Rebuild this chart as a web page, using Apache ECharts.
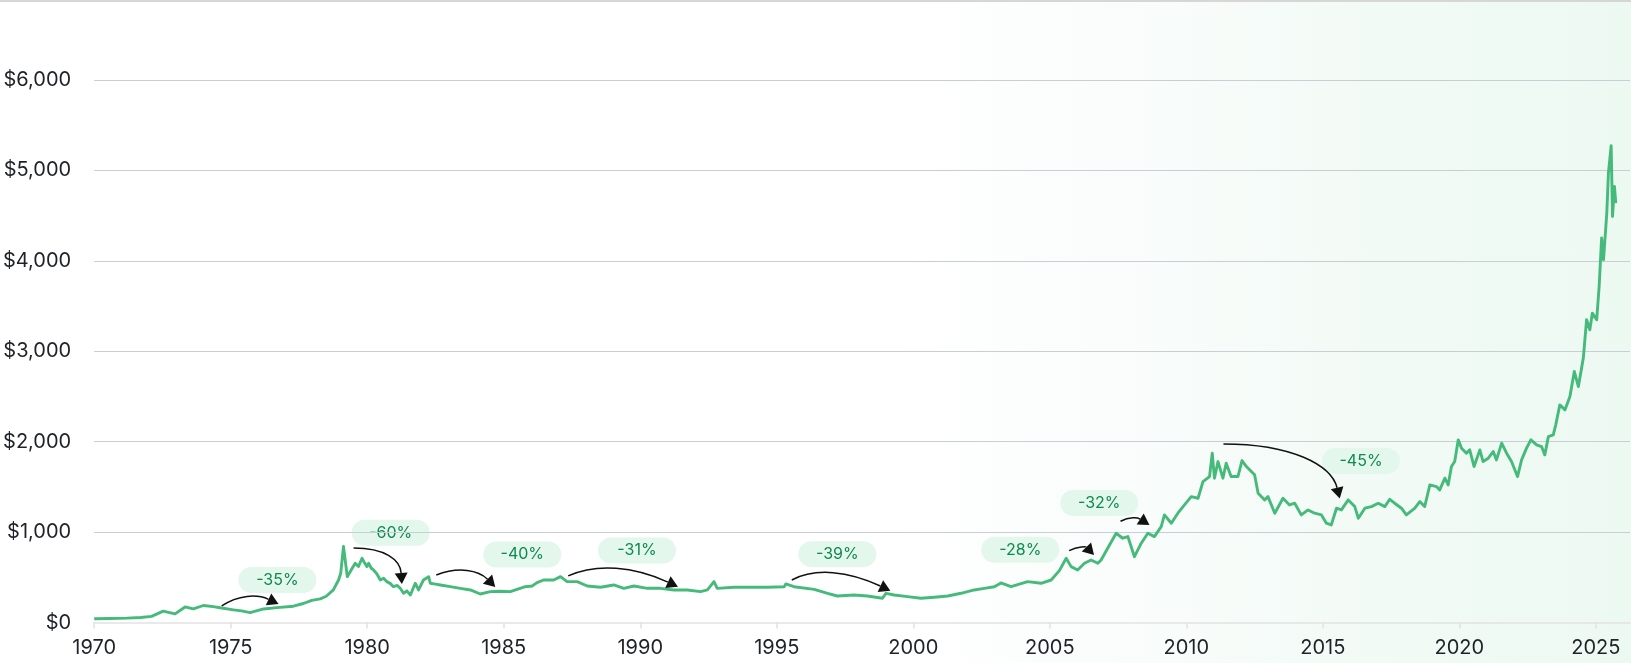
<!DOCTYPE html>
<html>
<head>
<meta charset="utf-8">
<script src="https://cdn.jsdelivr.net/npm/echarts@6/dist/echarts.min.js"></script>
<style>
  html, body { margin: 0; padding: 0; background: #ffffff; }
  #wrap { position: relative; width: 1631px; height: 663px; overflow: hidden;
    background: linear-gradient(90deg, #ffffff 0%, #ffffff 55%, #f8fcfa 72%, #f1faf5 88%, #ecf9f1 100%); }
  #topbar { position: absolute; left: 0; top: 0; width: 100%; height: 2px; background: #d6d6d6; z-index: 5; }
  #chart { position: absolute; left: 0; top: 0; width: 1631px; height: 663px; }
</style>
</head>
<body>
<div id="wrap"><div id="chart"></div><div id="topbar"></div></div>
<script>
// ---- Data (year, USD per ounce) ----
const gold1970s = [
  [1970.00,42],[1970.60,44],[1971.20,48],[1971.70,55],[1972.10,68],[1972.53,125],[1972.96,95],
  [1973.33,172],[1973.63,150],[1974.00,188],[1974.36,175],[1974.67,160],[1975.10,140],[1975.40,128],
  [1975.71,110],[1976.20,150],[1976.69,165],[1977.30,180],[1977.66,210],[1977.97,245],[1978.28,262],
  [1978.50,290],[1978.76,360],[1978.95,470],[1979.03,545],[1979.13,840],[1979.27,507],[1979.31,489],
  [1979.45,600],[1979.56,655],[1979.68,620],[1979.81,711],[1979.90,660],[1979.99,618]
];
const gold1980s = [
  [1980.05,655],[1980.15,600],[1980.23,581],[1980.35,540],[1980.48,470],[1980.60,490],[1980.72,452],
  [1980.85,430],[1980.96,396],[1981.10,410],[1981.21,378],[1981.33,323],[1981.45,350],[1981.58,304],
  [1981.76,434],[1981.88,360],[1982.06,470],[1982.25,507],[1982.31,434],[1982.50,425],[1982.68,415],
  [1983.04,396],[1983.41,378],[1983.78,360],[1984.14,315],[1984.51,341],[1984.88,345],[1985.24,341],
  [1985.79,396],[1986.04,404],[1986.22,441],[1986.46,470],[1986.83,470],[1987.08,507],[1987.32,452],
  [1987.69,452],[1988.06,404],[1988.54,390],[1989.03,415],[1989.40,378],[1989.77,404]
];
const gold1990s = [
  [1990.26,378],[1990.74,378],[1991.23,360],[1991.72,360],[1992.21,341],[1992.46,360],[1992.70,452],
  [1992.82,378],[1993.43,390],[1994.17,390],[1994.66,390],[1995.27,396],[1995.33,426],[1995.63,396],
  [1996.37,367],[1996.86,323],[1997.22,293],[1997.83,304],[1998.32,293],[1998.87,268],[1999.00,323],
  [1999.30,304],[1999.79,286]
];
const gold2000s = [
  [2000.28,268],[2000.77,279],[2001.26,293],[2001.75,323],[2002.23,360],[2002.60,378],[2002.97,396],
  [2003.21,438],[2003.58,396],[2004.19,452],[2004.68,434],[2005.05,470],[2005.35,574],[2005.60,711],
  [2005.78,618],[2006.02,581],[2006.27,655],[2006.51,692],[2006.76,655],[2006.88,692],[2007.12,821],
  [2007.43,987],[2007.67,932],[2007.86,950],[2008.10,728],[2008.35,877],[2008.59,987],[2008.83,950],
  [2009.08,1060],[2009.20,1190],[2009.45,1098],[2009.69,1209],[2009.88,1282]
];
const gold2010s = [
  [2010.18,1392],[2010.43,1374],[2010.61,1558],[2010.85,1614],[2010.95,1873],[2011.03,1596],[2011.16,1780],
  [2011.34,1596],[2011.46,1762],[2011.64,1614],[2011.89,1614],[2012.04,1791],[2012.20,1725],[2012.50,1633],
  [2012.63,1430],[2012.87,1356],[2012.99,1392],[2013.24,1209],[2013.54,1374],[2013.78,1300],[2013.97,1319],
  [2014.21,1190],[2014.46,1245],[2014.70,1209],[2014.95,1190],[2015.13,1098],[2015.31,1079],[2015.50,1264],
  [2015.68,1245],[2015.93,1356],[2016.17,1282],[2016.30,1153],[2016.54,1264],[2016.78,1282],[2017.03,1319],
  [2017.27,1282],[2017.45,1363],[2017.63,1319],[2017.88,1264],[2018.06,1190],[2018.37,1264],[2018.55,1337],
  [2018.73,1282],[2018.92,1522],[2019.16,1503],[2019.28,1466],[2019.47,1596],[2019.59,1522],[2019.71,1725],
  [2019.83,1780],[2019.96,2020]
];
const gold2020s = [
  [2020.08,1928],[2020.26,1873],[2020.38,1909],[2020.54,1725],[2020.75,1909],[2020.87,1780],[2021.06,1817],
  [2021.24,1891],[2021.36,1798],[2021.55,1984],[2021.73,1873],[2021.91,1780],[2022.13,1614],[2022.28,1798],
  [2022.46,1928],[2022.62,2020],[2022.83,1965],[2023.01,1946],[2023.13,1854],[2023.26,2056],[2023.44,2075],
  [2023.53,2186],[2023.68,2407],[2023.87,2352],[2024.05,2499],[2024.21,2776],[2024.36,2610],[2024.54,2924],
  [2024.66,3348],[2024.78,3237],[2024.87,3422],[2025.03,3348],[2025.12,3716],[2025.21,4252],[2025.28,4012],
  [2025.40,4528],[2025.46,4971],[2025.56,5273],[2025.61,4491],[2025.68,4823],[2025.73,4639]
];

// ---- Drawdown annotations (data coordinates) ----
const annotationLabels = ['-35%','-60%','-40%','-31%','-39%','-28%','-32%','-45%'];
const annotationPillAt = [[1976.71,470],[1980.86,993],[1985.68,752],[1989.88,797],[1997.22,756],[2003.92,804],[2006.81,1322],[2016.40,1787]];
const arrowFrom  = [[1974.67,183],[1979.50,824],[1982.53,526],[1987.36,515],[1995.55,470],[2005.71,795],[2007.59,1120],[2011.36,1975]];
const arrowCtrl1 = [[1975.28,308],[1980.66,824],[1983.36,622],[1988.42,658],[1996.42,609],[2006.05,851],[2007.92,1174],[2013.85,1975]];
const arrowCtrl2 = [[1975.97,315],[1981.21,692],[1984.08,578],[1989.76,619],[1997.62,569],[2006.34,835],[2008.23,1160],[2015.31,1743]];
const arrowTo    = [[1976.75,205],[1981.27,426],[1984.69,393],[1991.38,396],[1999.16,352],[2006.62,747],[2008.65,1079],[2015.62,1372]];

const xTicks = { min: 1970, max: 2026.25, step: 5 };
const yTicks = { min: 0, max: 6000, step: 1000 };

const goldSeries = [].concat(gold1970s, gold1980s, gold1990s, gold2000s, gold2010s, gold2020s);

const chart = echarts.init(document.getElementById('chart'), null, { renderer: 'canvas' });
const FONT = 'Inter, "Noto Sans", sans-serif';

chart.setOption({
  animation: false,
  backgroundColor: 'transparent',
  grid: { left: 94, right: 1, top: 80, bottom: 40.5, containLabel: false },
  xAxis: {
    type: 'value', min: xTicks.min, max: xTicks.max, interval: xTicks.step,
    axisLine: { show: true, lineStyle: { color: '#e2e2e2', width: 1.5 } },
    axisTick: { show: true, length: 6, lineStyle: { color: '#e2e2e2', width: 1.5 } },
    splitLine: { show: false },
    axisLabel: {
      color: '#1f2328', fontSize: 20, fontFamily: FONT, margin: 15,
      showMaxLabel: false,
      formatter: v => (Math.abs(v - Math.round(v)) < 1e-6 ? String(Math.round(v)) : '')
    }
  },
  yAxis: {
    type: 'value', min: yTicks.min, max: yTicks.max, interval: yTicks.step,
    axisLine: { show: false }, axisTick: { show: false },
    splitLine: { show: true, showMinLine: false, lineStyle: { color: '#c9cdd5', width: 1.2 } },
    axisLabel: {
      color: '#1f2328', fontSize: 20, fontFamily: FONT, margin: 23,
      formatter: v => '$' + v.toLocaleString('en-US')
    }
  },
  series: [{
    type: 'line', data: goldSeries, showSymbol: false, symbol: 'none',
    lineStyle: { color: '#46ba7b', width: 2.9, join: 'round' },
    z: 3
  }]
});

function px(p) { return chart.convertToPixel({ xAxisIndex: 0, yAxisIndex: 0 }, p); }

const graphics = [];
const PILL_W = 78, PILL_H = 26;
annotationLabels.forEach((label, i) => {
  const c = px(annotationPillAt[i]);
  graphics.push({
    type: 'rect', z: -1, silent: true,
    shape: { x: c[0] - PILL_W / 2, y: c[1] - PILL_H / 2, width: PILL_W, height: PILL_H, r: PILL_H / 2 },
    style: { fill: '#e3f7ec' }
  });
  graphics.push({
    type: 'text', z: -1, silent: true, x: c[0], y: c[1],
    style: { text: label, fill: '#0f8a4e', font: '16px ' + FONT, align: 'center', verticalAlign: 'middle' }
  });
  const p0 = px(arrowFrom[i]), p1 = px(arrowCtrl1[i]), p2 = px(arrowCtrl2[i]), p3 = px(arrowTo[i]);
  let dx = p3[0] - p2[0], dy = p3[1] - p2[1];
  const d = Math.hypot(dx, dy) || 1; dx /= d; dy /= d;
  const len = 11, hw = 6.5;
  const base = [p3[0] - dx * len, p3[1] - dy * len];
  const nx = -dy, ny = dx;
  graphics.push({
    type: 'bezierCurve', z: 10, silent: true,
    shape: { x1: p0[0], y1: p0[1], cpx1: p1[0], cpy1: p1[1], cpx2: p2[0], cpy2: p2[1], x2: base[0], y2: base[1] },
    style: { stroke: '#111111', lineWidth: 1.5, fill: null }
  });
  graphics.push({
    type: 'polygon', z: 10, silent: true,
    shape: { points: [[p3[0], p3[1]], [base[0] + nx * hw, base[1] + ny * hw], [base[0] - nx * hw, base[1] - ny * hw]] },
    style: { fill: '#111111' }
  });
});
chart.setOption({ graphic: graphics });
</script>
</body>
</html>
